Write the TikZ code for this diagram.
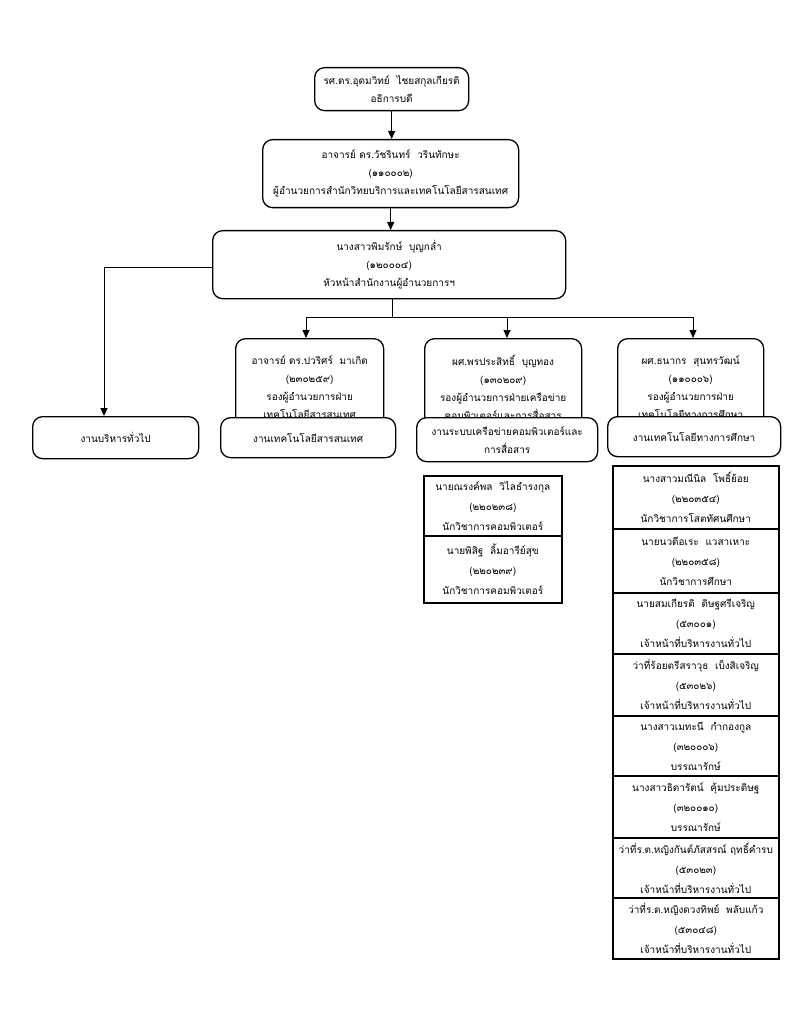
\documentclass[tikz,border=0pt]{standalone}
\usepackage{fontspec}
\setmainfont[Script=Thai]{Loma}
\usetikzlibrary{arrows.meta}
\begin{document}
\begin{tikzpicture}[x=1pt,y=-1pt,
  rbox/.style={draw, line width=1.3pt, rounded corners=10pt, fill=white, align=center,
    font=\fontsize{10}{18}\selectfont, inner sep=0pt, anchor=north west},
  sbox/.style={draw, line width=1.6pt, fill=white, align=center,
    font=\fontsize{10}{20}\selectfont, inner sep=0pt, anchor=north west},
  arr/.style={line width=0.9pt, -{Triangle[length=8pt,width=7pt]}},
  ln/.style={line width=0.9pt}]
\useasboundingbox[fill=white] (0,0) rectangle (799,1024);

% top chain
\node[rbox, minimum width=154, minimum height=43] (b1) at (314,67)
  {รศ.ดร.อุดมวิทย์\ \ ไชยสกุลเกียรติ\\อธิการบดี};
\node[rbox, minimum width=256, minimum height=68] (b2) at (262,139)
  {อาจารย์ ดร.วัชรินทร์\ \ วรินทักษะ\\(๑๑๐๐๐๒)\\ผู้อำนวยการสำนักวิทยบริการและเทคโนโลยีสารสนเทศ};
\node[rbox, minimum width=353, minimum height=68] (b3) at (212,230)
  {นางสาวพิมรักษ์\ \ บุญกล่ำ\\(๑๒๐๐๐๔)\\หัวหน้าสำนักงานผู้อำนวยการฯ};

% deputy boxes (bottoms hidden by section boxes)
\node[rbox, minimum width=148, minimum height=97] (d1) at (235,338)
  {อาจารย์ ดร.ปวริศร์\ \ มาเกิด\\(๒๓๐๒๕๙)\\รองผู้อำนวยการฝ่าย\\เทคโนโลยีสารสนเทศ};
\node[rbox, minimum width=157, minimum height=97] (d2) at (424,338)
  {ผศ.พรประสิทธิ์\ \ บุญทอง\\(๑๓๐๒๐๙)\\รองผู้อำนวยการฝ่ายเครือข่าย\\คอมพิวเตอร์และการสื่อสาร};
\node[rbox, minimum width=146, minimum height=97] (d3) at (617,338)
  {ผศ.ธนากร\ \ สุนทรวัฒน์\\(๑๑๐๐๐๖)\\รองผู้อำนวยการฝ่าย\\เทคโนโลยีทางการศึกษา};

% section boxes
\node[rbox, minimum width=166, minimum height=42] (g0) at (32,416) {งานบริหารทั่วไป};
\node[rbox, minimum width=175, minimum height=40] (g1) at (220,417) {งานเทคโนโลยีสารสนเทศ};
\node[rbox, minimum width=181, minimum height=44] (g2) at (416,417)
  {งานระบบเครือข่ายคอมพิวเตอร์และ\\การสื่อสาร};
\node[rbox, minimum width=173, minimum height=40] (g3) at (607,416) {งานเทคโนโลยีทางการศึกษา};

% staff column 1
\node[sbox, minimum width=138, minimum height=60] (s1) at (423,475)
  {นายณรงค์พล\ \ วิไลธำรงกุล\\(๒๒๐๒๓๘)\\นักวิชาการคอมพิวเตอร์};
\node[sbox, minimum width=138, minimum height=67] (s2) at (423,535)
  {นายพิสิฐ\ \ ลิ้มอารีย์สุข\\(๒๒๐๒๓๙)\\นักวิชาการคอมพิวเตอร์};

% staff column 2
\node[sbox, minimum width=166, minimum height=63] (t1) at (612,465)
  {นางสาวมณีนิล\ \ โพธิ์ย้อย\\(๒๒๐๓๕๔)\\นักวิชาการโสตทัศนศึกษา};
\node[sbox, minimum width=166, minimum height=64] (t2) at (612,528)
  {นายนวดีอเระ\ \ แวสาเหาะ\\(๒๒๐๓๕๘)\\นักวิชาการศึกษา};
\node[sbox, minimum width=166, minimum height=61] (t3) at (612,592)
  {นายสมเกียรติ\ \ ดิษฐศรีเจริญ\\(๕๓๐๐๑)\\เจ้าหน้าที่บริหารงานทั่วไป};
\node[sbox, minimum width=166, minimum height=62] (t4) at (612,653)
  {ว่าที่ร้อยตรีสราวุธ\ \ เบ็งสิเจริญ\\(๕๓๐๒๖)\\เจ้าหน้าที่บริหารงานทั่วไป};
\node[sbox, minimum width=166, minimum height=60] (t5) at (612,715)
  {นางสาวเมทะนี\ \ กำกองกูล\\(๓๒๐๐๐๖)\\บรรณารักษ์};
\node[sbox, minimum width=166, minimum height=62] (t6) at (612,775)
  {นางสาวธิดารัตน์\ \ คุ้มประดิษฐ\\(๓๒๐๐๑๐)\\บรรณารักษ์};
\node[sbox, minimum width=166, minimum height=60] (t7) at (612,837)
  {ว่าที่ร.ต.หญิงกันต์ภัสสรณ์ ฤทธิ์คำรบ\\(๕๓๐๒๓)\\เจ้าหน้าที่บริหารงานทั่วไป};
\node[sbox, minimum width=166, minimum height=61] (t8) at (612,897)
  {ว่าที่ร.ต.หญิงดวงทิพย์\ \ พลับแก้ว\\(๕๓๐๔๘)\\เจ้าหน้าที่บริหารงานทั่วไป};

% connectors
\coordinate (j) at (392,317);
\coordinate (k) at (104,267);
\draw[arr] (b1.south) -- (b1.south |- b2.north);
\draw[arr] (b2.south) -- (b2.south |- b3.north);
\draw[ln] (b3.south -| j) -- (j);
\draw[ln] (306,317) -- (693,317);
\draw[arr] (306,317) -- (306,338);
\draw[arr] (j -| 507,0) -- (507,338);
\draw[arr] (693,317) -- (693,338);
\draw[arr] (b3.west |- k) -- (k) -- (k |- g0.north);
\end{tikzpicture}
\end{document}
